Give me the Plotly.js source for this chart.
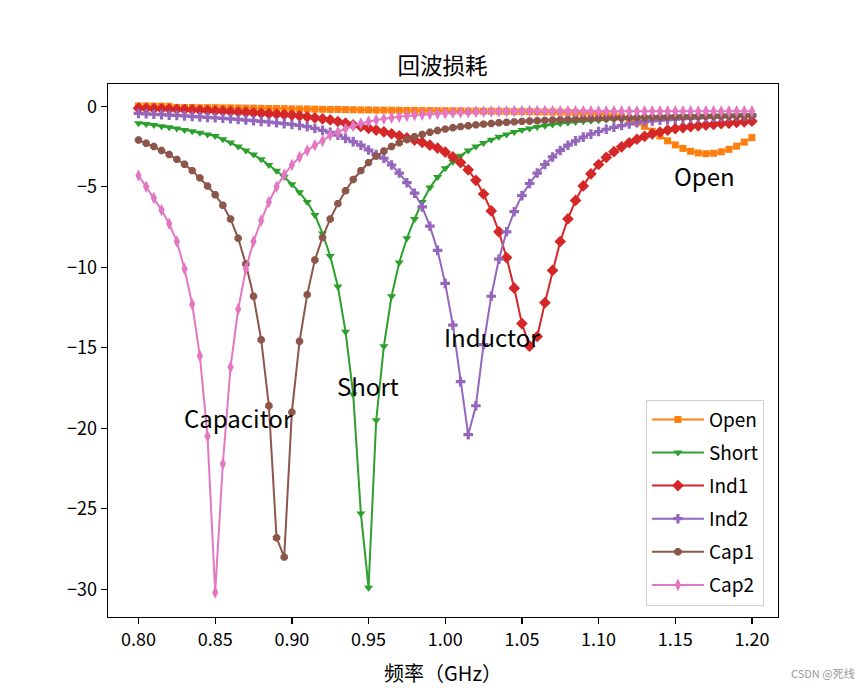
<!DOCTYPE html>
<html>
<head>
<meta charset="utf-8">
<script src="https://cdn.plot.ly/plotly-3.0.1.min.js"></script>
<style>html,body{margin:0;padding:0;background:#fff;}#chart{width:865px;height:693px;}</style>
</head>
<body>
<div id="chart"></div>
<script>
// Frequency points (GHz)
const freq = [0.800,0.805,0.810,0.815,0.820,0.825,0.830,0.835,0.840,0.845,
  0.850,0.855,0.860,0.865,0.870,0.875,0.880,0.885,0.890,0.895,
  0.900,0.905,0.910,0.915,0.920,0.925,0.930,0.935,0.940,0.945,
  0.950,0.955,0.960,0.965,0.970,0.975,0.980,0.985,0.990,0.995,
  1.000,1.005,1.010,1.015,1.020,1.025,1.030,1.035,1.040,1.045,
  1.050,1.055,1.060,1.065,1.070,1.075,1.080,1.085,1.090,1.095,
  1.100,1.105,1.110,1.115,1.120,1.125,1.130,1.135,1.140,1.145,
  1.150,1.155,1.160,1.165,1.170,1.175,1.180,1.185,1.190,1.195,1.200];

// Return loss (dB) per load
const openLoss = [0.02,0.02,0.01,0.01,0.00,-0.08,-0.08,-0.08,-0.09,-0.09,
  -0.09,-0.10,-0.10,-0.11,-0.12,-0.12,-0.13,-0.14,-0.14,-0.15,
  -0.16,-0.17,-0.17,-0.18,-0.19,-0.20,-0.20,-0.21,-0.22,-0.23,
  -0.23,-0.24,-0.24,-0.25,-0.25,-0.26,-0.26,-0.27,-0.27,-0.28,
  -0.28,-0.29,-0.29,-0.30,-0.30,-0.31,-0.31,-0.32,-0.32,-0.33,
  -0.33,-0.34,-0.35,-0.35,-0.36,-0.37,-0.38,-0.39,-0.41,-0.43,
  -0.45,-0.50,-0.57,-0.66,-0.80,-1.00,-1.25,-1.55,-1.85,-2.15,
  -2.40,-2.62,-2.80,-2.90,-2.95,-2.92,-2.83,-2.68,-2.48,-2.23,-1.95];

const shortLoss = [-1.05,-1.11,-1.17,-1.24,-1.31,-1.39,-1.47,-1.56,-1.65,-1.75,
  -1.85,-2.05,-2.25,-2.50,-2.75,-3.00,-3.30,-3.65,-4.00,-4.40,
  -4.85,-5.35,-5.95,-6.75,-7.90,-9.30,-11.2,-14.0,-17.9,-25.3,
  -29.9,-19.5,-14.9,-11.8,-9.70,-8.20,-7.00,-5.95,-5.05,-4.40,
  -3.85,-3.45,-3.07,-2.75,-2.50,-2.28,-2.08,-1.90,-1.75,-1.60,
  -1.48,-1.38,-1.29,-1.21,-1.14,-1.08,-1.03,-0.98,-0.94,-0.90,
  -0.87,-0.84,-0.81,-0.78,-0.76,-0.74,-0.72,-0.70,-0.68,-0.66,
  -0.65,-0.63,-0.62,-0.61,-0.60,-0.59,-0.58,-0.57,-0.56,-0.55,-0.54];

const ind1Loss = [-0.12,-0.13,-0.15,-0.16,-0.18,-0.19,-0.21,-0.23,-0.25,-0.27,
  -0.29,-0.31,-0.33,-0.36,-0.38,-0.41,-0.43,-0.46,-0.49,-0.52,
  -0.55,-0.60,-0.66,-0.72,-0.78,-0.85,-0.95,-1.05,-1.16,-1.26,
  -1.37,-1.48,-1.59,-1.71,-1.84,-1.97,-2.10,-2.25,-2.42,-2.60,
  -2.85,-3.15,-3.50,-3.95,-4.60,-5.45,-6.50,-7.80,-9.40,-11.3,
  -13.5,-14.9,-14.3,-12.2,-10.2,-8.40,-7.00,-5.85,-4.95,-4.20,
  -3.62,-3.18,-2.82,-2.52,-2.27,-2.05,-1.87,-1.72,-1.60,-1.49,
  -1.40,-1.33,-1.27,-1.22,-1.17,-1.13,-1.09,-1.05,-1.01,-0.97,-0.93];

const ind2Loss = [-0.45,-0.47,-0.50,-0.52,-0.55,-0.57,-0.60,-0.63,-0.66,-0.69,
  -0.72,-0.75,-0.78,-0.82,-0.86,-0.90,-0.94,-0.98,-1.03,-1.08,
  -1.13,-1.19,-1.27,-1.38,-1.50,-1.62,-1.80,-2.00,-2.20,-2.42,
  -2.72,-3.00,-3.23,-3.65,-4.15,-4.75,-5.40,-6.25,-7.45,-8.95,
  -11.0,-13.6,-17.1,-20.4,-18.6,-14.8,-11.8,-9.50,-7.80,-6.55,
  -5.55,-4.80,-4.15,-3.62,-3.15,-2.75,-2.42,-2.15,-1.92,-1.73,
  -1.57,-1.43,-1.31,-1.20,-1.10,-1.02,-0.96,-0.91,-0.87,-0.83,
  -0.80,-0.77,-0.74,-0.72,-0.70,-0.68,-0.66,-0.64,-0.62,-0.60,-0.58];

const cap1Loss = [-2.10,-2.30,-2.50,-2.75,-3.00,-3.30,-3.60,-4.00,-4.45,-4.95,
  -5.50,-6.15,-7.00,-8.20,-9.80,-11.8,-14.5,-18.6,-26.8,-28.0,
  -19.0,-14.6,-11.7,-9.55,-8.15,-7.00,-6.05,-5.25,-4.55,-4.00,
  -3.50,-3.10,-2.78,-2.50,-2.27,-2.07,-1.90,-1.75,-1.62,-1.51,
  -1.42,-1.34,-1.27,-1.21,-1.16,-1.11,-1.07,-1.03,-1.00,-0.97,
  -0.94,-0.92,-0.90,-0.88,-0.86,-0.84,-0.82,-0.81,-0.79,-0.78,
  -0.76,-0.75,-0.74,-0.73,-0.72,-0.71,-0.70,-0.69,-0.68,-0.67,
  -0.66,-0.65,-0.65,-0.64,-0.63,-0.63,-0.62,-0.61,-0.61,-0.60,-0.60];

const cap2Loss = [-4.30,-5.00,-5.70,-6.45,-7.30,-8.40,-10.1,-12.3,-15.5,-20.5,
  -30.2,-22.2,-16.2,-12.6,-10.1,-8.40,-7.10,-5.95,-5.00,-4.25,
  -3.65,-3.15,-2.75,-2.42,-2.15,-1.80,-1.60,-1.40,-1.22,-1.07,
  -0.95,-0.86,-0.78,-0.71,-0.65,-0.60,-0.56,-0.52,-0.49,-0.46,
  -0.43,-0.41,-0.39,-0.37,-0.35,-0.34,-0.33,-0.32,-0.31,-0.30,
  -0.30,-0.30,-0.30,-0.30,-0.31,-0.31,-0.31,-0.31,-0.32,-0.32,
  -0.32,-0.32,-0.32,-0.32,-0.32,-0.32,-0.32,-0.32,-0.32,-0.32,
  -0.32,-0.32,-0.32,-0.32,-0.32,-0.32,-0.32,-0.32,-0.32,-0.32,-0.32];

const seriesNames = ['Open','Short','Ind1','Ind2','Cap1','Cap2'];
const seriesData = [openLoss, shortLoss, ind1Loss, ind2Loss, cap1Loss, cap2Loss];
const seriesColors = ['#ff7f0e','#2ca02c','#d62728','#9467bd','#8c564b','#e377c2'];
const seriesSymbols = ['square','triangle-down','diamond','cross','octagon','diamond-tall'];
const seriesSizes = [7,8,9,8,8,9];

const xTicks = [0.80,0.85,0.90,0.95,1.00,1.05,1.10,1.15,1.20];
const yTicks = [0,-5,-10,-15,-20,-25,-30];

const labelText = ['Open','Inductor','Short','Capacitor'];
const labelX = [1.15,1.00,0.93,0.83];
const labelY = [-5,-15,-18,-20];

const FONT = '"Noto Sans CJK SC", "Noto Sans", sans-serif';

const traces = seriesNames.map((n, i) => ({
  type: 'scatter', mode: 'lines+markers', name: n,
  x: freq, y: seriesData[i], legendgroup: 'g' + i,
  line: {color: seriesColors[i], width: 2},
  marker: {color: seriesColors[i], symbol: seriesSymbols[i], size: seriesSizes[i], line: {width: 0}}
}));

const annotations = labelText.map((t, i) => ({
  x: labelX[i], y: labelY[i], xref: 'x', yref: 'y', text: t, showarrow: false,
  xanchor: 'left', yanchor: 'bottom', xshift: -3, yshift: -8.5,
  font: {family: FONT, size: 24, color: '#000'}
}));
annotations.push({
  x: 1, y: 0, xref: 'paper', yref: 'paper', xanchor: 'right', yanchor: 'bottom',
  xshift: 79, yshift: -66, text: 'CSDN @死线', showarrow: false,
  font: {family: FONT, size: 11, color: '#999'}
});

const layout = {
  width: 865, height: 693,
  margin: {l: 108, r: 87, t: 84, b: 76},
  paper_bgcolor: '#fff', plot_bgcolor: '#fff',
  font: {family: FONT, size: 18, color: '#000'},
  title: {text: '回波损耗', x: 0.5115, xanchor: 'center', y: 0.8935, yanchor: 'bottom', font: {family: FONT, size: 22.5, color: '#000'}},
  xaxis: {
    range: [0.7801, 1.217], tickvals: xTicks, tickformat: '.2f',
    showgrid: false, zeroline: false, showline: true, linecolor: '#000', linewidth: 1.3, mirror: true,
    ticks: 'outside', ticklen: 6, tickwidth: 1.3, tickcolor: '#000',
    tickfont: {family: FONT, size: 18, color: '#000'},
    title: {text: '频率（GHz）', font: {family: FONT, size: 20, color: '#000'}, standoff: 17}
  },
  yaxis: {
    range: [-31.72, 1.38], tickvals: yTicks,
    showgrid: false, zeroline: false, showline: true, linecolor: '#000', linewidth: 1.3, mirror: true,
    ticks: 'outside', ticklen: 6, tickwidth: 1.3, tickcolor: '#000',
    tickfont: {family: FONT, size: 18, color: '#000'}
  },
  legend: {
    x: 0.979, y: 0.0215, xanchor: 'right', yanchor: 'bottom',
    bgcolor: 'rgba(255,255,255,0.85)', bordercolor: '#d0d0d0', borderwidth: 1,
    font: {family: FONT, size: 19, color: '#000'}, tracegroupgap: 5.4, itemwidth: 52
  },
  annotations: annotations,
  showlegend: true
};

Plotly.newPlot('chart', traces, layout, {displayModeBar: false, staticPlot: true});
</script>
</body>
</html>
